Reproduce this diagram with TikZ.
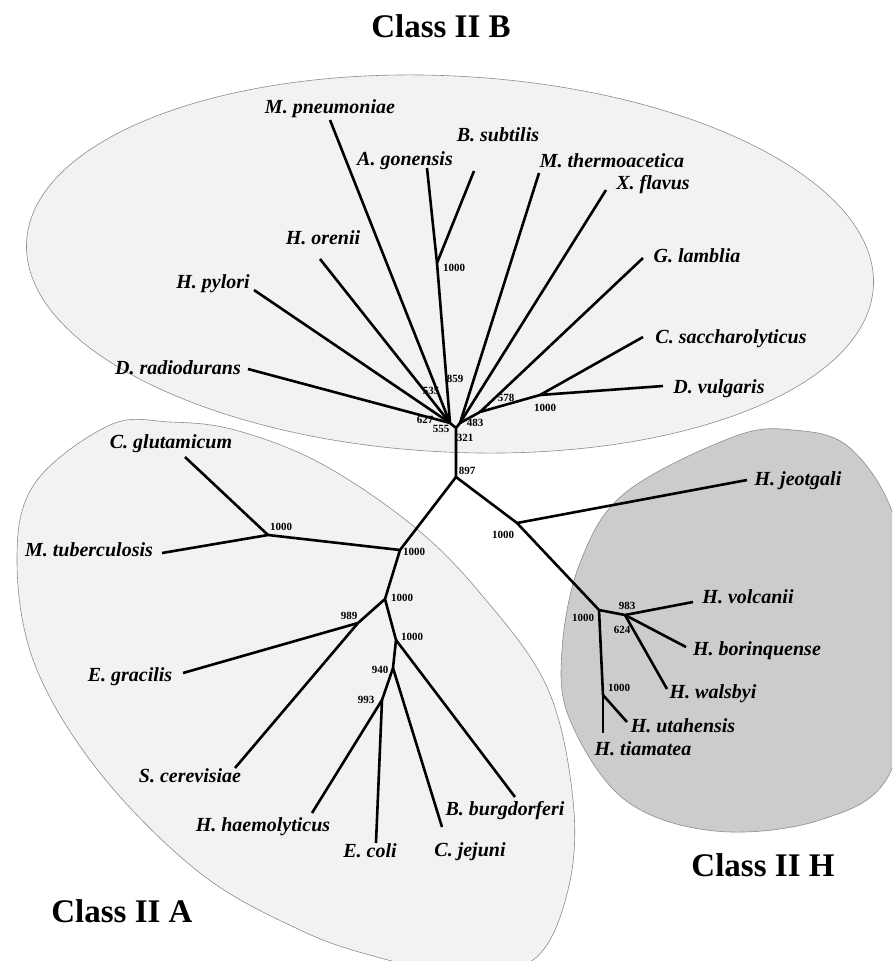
\documentclass[tikz,border=0pt]{standalone}
\usepackage{fontspec}
\setmainfont{Liberation Serif}
\begin{document}
\begin{tikzpicture}[x=1pt, y=-1pt,
  branch/.style={line width=2.6pt, line join=round},
  taxon/.style={font=\fontsize{20}{22}\selectfont\bfseries\itshape, inner sep=0pt, text height=14pt, text depth=4pt},
  boot/.style={font=\fontsize{11}{12}\selectfont\bfseries, inner sep=0pt},
  classname/.style={font=\fontsize{33}{36}\selectfont\bfseries, inner sep=0pt},
  region/.style={draw=black!45, line width=0.6pt}]
\useasboundingbox (0,0) rectangle (892,961);
\clip (0,0) rectangle (892,961);
\fill[white] (0,0) rectangle (892,961);
\draw[region, fill=black!5, rotate around={-3:(450,264)}] (450,264) ellipse [x radius=424, y radius=188];
\draw[region, fill=black!5] plot[smooth cycle, tension=0.6] coordinates {(110,425) (170,422) (235,430) (320,463) (412,525) (480,593) (547,687) (573,800) (568,890) (533,960) (455,972) (377,957) (300,930) (200,873) (100,773) (35,665) (17,560) (35,483)};
\draw[region, fill=black!20] plot[smooth cycle, tension=0.6] coordinates {(733,437) (793,430) (850,448) (895,520) (910,640) (890,773) (820,820) (715,831) (625,800) (570,720) (562,650) (580,563) (625,493)};
\node[classname] (classB) at (441,26) {Class II B};
\node[classname] (classA) at (122,911) {Class II A};
\node[classname] (classH) at (763,865) {Class II H};
\coordinate (root) at (456,477);
\coordinate (hub) at (456,428);
\coordinate (bL) at (450,423);
\coordinate (bR) at (460,423);
\coordinate (bAB) at (437,263);
\coordinate (b578) at (480,412);
\coordinate (bCD) at (540,395);
\coordinate (a1) at (400,550);
\coordinate (a2) at (268,535);
\coordinate (a3) at (385,599);
\coordinate (a989) at (358,623);
\coordinate (a4) at (396,640);
\coordinate (a940) at (393,668);
\coordinate (a993) at (382,700);
\coordinate (h1) at (517,523);
\coordinate (h2) at (599,610);
\coordinate (h3) at (625,615);
\coordinate (h4) at (603,695);
\draw[branch] (root) -- (hub) (hub) -- (bL) (hub) -- (bR) (bL) -- (bAB) (bR) -- (b578) -- (bCD);
\draw[branch] (root) -- (a1) -- (a2) (a1) -- (a3) -- (a989) (a3) -- (a4) -- (a940) -- (a993);
\draw[branch] (root) -- (h1) -- (h2) -- (h3) (h2) -- (h4);
\foreach \leaf/\from/\ex/\ey/\lx/\ly/\txt in {
  mpn/bL/330/120/330/108/M. pneumoniae, bsu/bAB/474/171/498/136/B. subtilis,
  ago/bAB/427/168/405/160/A. gonensis, mth/bR/539/173/612/162/M. thermoacetica,
  xfl/bR/606/190/653/184/X. flavus, hor/bL/320/259/323/239/H. orenii,
  gla/b578/643/258/697/257/G. lamblia, hpy/bL/254/290/213/283/H. pylori,
  csa/bCD/643/337/731/338/C. saccharolyticus, dra/bL/248/369/178/369/D. radiodurans,
  dvu/bCD/663/386/719/388/D. vulgaris,
  cgl/a2/185/457/171/443/C. glutamicum, mtu/a2/162/553/89/551/M. tuberculosis,
  egr/a989/183/673/130/676/E. gracilis, sce/a989/235/768/190/777/S. cerevisiae,
  hha/a993/312/813/263/826/H. haemolyticus, eco/a993/376/843/370/852/E. coli,
  cje/a940/442/827/470/851/C. jejuni, bbu/a4/515/797/505/810/B. burgdorferi,
  hje/h1/747/480/798/480/H. jeotgali, hvo/h3/693/602/748/598/H. volcanii,
  hbo/h3/686/647/757/650/H. borinquense, hwa/h3/667/689/713/693/H. walsbyi,
  hut/h4/627/722/683/727/H. utahensis, hti/h4/603/733/643/750/H. tiamatea} {
  \coordinate (\leaf) at (\ex,\ey);
  \draw[branch] (\from) -- (\leaf);
  \node[taxon] (\leaf-name) at (\lx,\ly) {\txt};
}
\foreach \bx/\by/\bv [count=\i] in {454/268/1000, 455/379/859, 431/391/535, 425/420/627,
  441/429/555, 475/423/483, 465/438/321, 506/398/578, 545/408/1000, 467/471/897,
  281/527/1000, 414/552/1000, 402/598/1000, 349/616/989, 412/637/1000, 380/670/940,
  366/700/993, 503/535/1000, 583/618/1000, 627/606/983, 622/630/624, 619/688/1000}
  \node[boot] (boot\i) at (\bx,\by) {\bv};
\end{tikzpicture}
\end{document}
